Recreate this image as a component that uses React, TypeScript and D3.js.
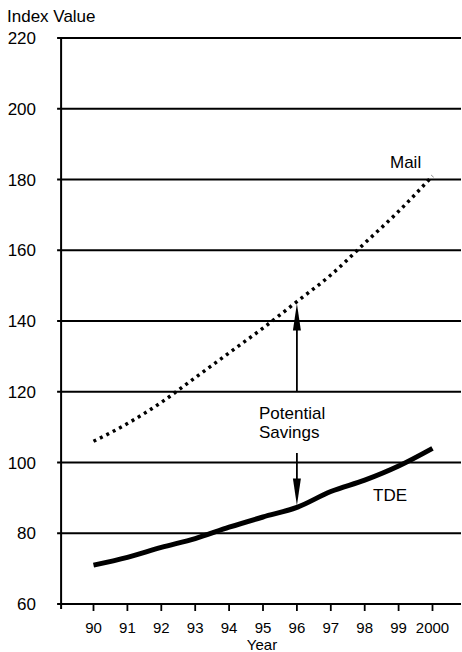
import { useEffect, useRef } from "react";
import * as d3 from "d3";

// ---------- Data ----------
const YEARS = [90, 91, 92, 93, 94, 95, 96, 97, 98, 99, 100];
const YEAR_LABELS = ["90", "91", "92", "93", "94", "95", "96", "97", "98", "99", "2000"];
const MAIL = [106, 111, 117, 124, 131, 138, 145.5, 153, 162, 171, 181];
const TDE = [71, 73.2, 76, 78.5, 81.7, 84.6, 87.3, 91.8, 95, 99, 104];
const Y_TICKS = [60, 80, 100, 120, 140, 160, 180, 200, 220];

const W = 462;
const H = 652;
const FONT = "'Liberation Sans', Arial, Helvetica, sans-serif";

export default function App() {
  const svgRef = useRef<SVGSVGElement | null>(null);

  useEffect(() => {
    if (!svgRef.current) return;
    const svg = d3.select(svgRef.current);
    svg.selectAll("*").remove();

    const x = d3.scaleLinear().domain([90, 100]).range([93.5, 432.5]);
    const y = d3.scaleLinear().domain([60, 220]).range([604, 38]);
    const left = x(89) + 1.5;
    const right = 461;

    // Gridlines (also serve as y ticks, sticking out left of the axis)
    svg
      .append("g")
      .selectAll("line")
      .data(Y_TICKS)
      .join("line")
      .attr("x1", left - 4)
      .attr("x2", right)
      .attr("y1", (d) => y(d))
      .attr("y2", (d) => y(d))
      .attr("stroke", "#000")
      .attr("stroke-width", 1.8);

    // Left axis
    svg
      .append("line")
      .attr("x1", left)
      .attr("x2", left)
      .attr("y1", y(220) - 1)
      .attr("y2", y(60) + 5)
      .attr("stroke", "#000")
      .attr("stroke-width", 2);

    // Y tick labels
    svg
      .append("g")
      .selectAll("text")
      .data(Y_TICKS)
      .join("text")
      .attr("x", 36)
      .attr("y", (d) => y(d) + 6)
      .attr("text-anchor", "end")
      .attr("font-family", FONT)
      .attr("font-size", 17)
      .text((d) => d);

    // X ticks
    svg
      .append("g")
      .selectAll("line")
      .data(YEARS)
      .join("line")
      .attr("x1", (d) => x(d))
      .attr("x2", (d) => x(d))
      .attr("y1", y(60))
      .attr("y2", y(60) + 7)
      .attr("stroke", "#000")
      .attr("stroke-width", 1.8);

    svg
      .append("g")
      .selectAll("text")
      .data(YEARS)
      .join("text")
      .attr("x", (d) => x(d))
      .attr("y", 633)
      .attr("text-anchor", "middle")
      .attr("font-family", FONT)
      .attr("font-size", 15)
      .text((_d, i) => YEAR_LABELS[i]);

    // Axis titles
    svg
      .append("text")
      .attr("x", 7)
      .attr("y", 22)
      .attr("font-family", FONT)
      .attr("font-size", 17)
      .text("Index Value");

    svg
      .append("text")
      .attr("x", 262)
      .attr("y", 650)
      .attr("text-anchor", "middle")
      .attr("font-family", FONT)
      .attr("font-size", 15)
      .text("Year");

    // Lines
    const line = d3
      .line<number>()
      .x((_d, i) => x(YEARS[i]))
      .y((d) => y(d))
      .curve(d3.curveMonotoneX);

    svg
      .append("path")
      .attr("d", line(MAIL) ?? "")
      .attr("fill", "none")
      .attr("stroke", "#000")
      .attr("stroke-width", 3.5)
      .attr("stroke-dasharray", "3 4.2");

    svg
      .append("path")
      .attr("d", line(TDE) ?? "")
      .attr("fill", "none")
      .attr("stroke", "#000")
      .attr("stroke-width", 5);

    // Series labels
    svg
      .append("text")
      .attr("x", 390)
      .attr("y", 168)
      .attr("font-family", FONT)
      .attr("font-size", 17)
      .text("Mail");

    svg
      .append("text")
      .attr("x", 373)
      .attr("y", 501)
      .attr("font-family", FONT)
      .attr("font-size", 17)
      .text("TDE");

    // Potential savings annotation
    const ax = x(96);
    const arrow = (y0: number, tip: number) => {
      const dir = tip < y0 ? 1 : -1;
      svg
        .append("line")
        .attr("x1", ax)
        .attr("x2", ax)
        .attr("y1", y0)
        .attr("y2", tip + dir * 10)
        .attr("stroke", "#000")
        .attr("stroke-width", 1.8);
      svg
        .append("path")
        .attr(
          "d",
          `M${ax},${tip} L${ax - 4},${tip + dir * 27} L${ax + 4},${tip + dir * 27} Z`
        )
        .attr("fill", "#000");
    };
    arrow(392, y(MAIL[6]) + 2);
    arrow(453, y(TDE[6]) - 2);

    const ann = svg
      .append("text")
      .attr("font-family", FONT)
      .attr("font-size", 17);
    ann.append("tspan").attr("x", 259).attr("y", 419).text("Potential");
    ann.append("tspan").attr("x", 259).attr("y", 438).text("Savings");
  }, []);

  return (
    <svg
      ref={svgRef}
      width={W}
      height={H}
      style={{ position: "absolute", left: 0, top: 0, background: "#fff" }}
    />
  );
}
